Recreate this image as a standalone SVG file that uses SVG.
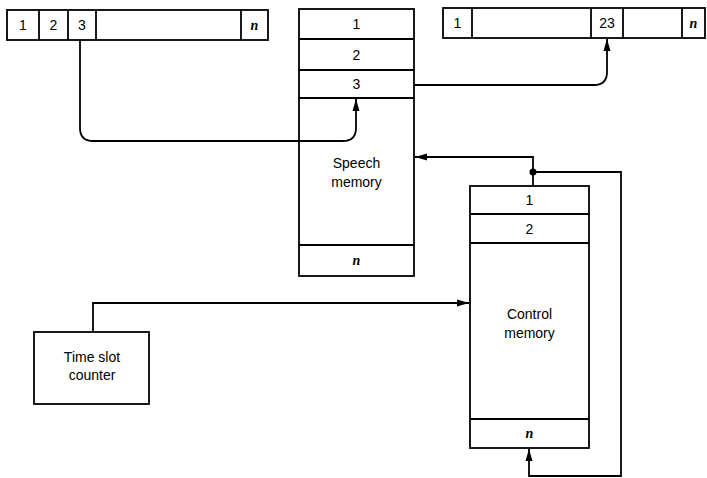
<svg xmlns="http://www.w3.org/2000/svg" width="707" height="478" viewBox="0 0 707 478">
<defs>
<style>
.b{fill:#fff;stroke:#000;stroke-width:1.8}
.l{fill:none;stroke:#000;stroke-width:1.8}
.t{font-family:"Liberation Sans",Arial,sans-serif;font-size:14px;text-anchor:middle;fill:#000}
.n{font-family:"Liberation Serif","Times New Roman",serif;font-style:italic;font-weight:bold;font-size:14px;text-anchor:middle;fill:#000}
</style>
<marker id="ah" viewBox="0 0 12 8" refX="12" refY="4" markerWidth="12" markerHeight="8" markerUnits="userSpaceOnUse" orient="auto"><path d="M0,0.5 L12,4 L0,7.5 Z" fill="#000"/></marker>
</defs>
<g id="input-frame">
<rect class="b" x="7" y="10" width="261" height="30"/>
<line class="l" x1="39" y1="10" x2="39" y2="40"/>
<line class="l" x1="68" y1="10" x2="68" y2="40"/>
<line class="l" x1="96" y1="10" x2="96" y2="40"/>
<line class="l" x1="241" y1="10" x2="241" y2="40"/>
<text class="t" x="23" y="30">1</text>
<text class="t" x="53.5" y="30">2</text>
<text class="t" x="82" y="30">3</text>
<text class="n" x="254.5" y="30">n</text>
</g>
<g id="output-frame">
<rect class="b" x="443" y="8" width="262" height="30"/>
<line class="l" x1="472" y1="8" x2="472" y2="38"/>
<line class="l" x1="591" y1="8" x2="591" y2="38"/>
<line class="l" x1="623" y1="8" x2="623" y2="38"/>
<line class="l" x1="682" y1="8" x2="682" y2="38"/>
<text class="t" x="457.5" y="28">1</text>
<text class="t" x="607" y="28">23</text>
<text class="n" x="693.5" y="28">n</text>
</g>
<g id="speech-memory">
<rect class="b" x="299" y="9" width="115" height="267"/>
<line class="l" x1="299" y1="39" x2="414" y2="39"/>
<line class="l" x1="299" y1="70" x2="414" y2="70"/>
<line class="l" x1="299" y1="98" x2="414" y2="98"/>
<line class="l" x1="299" y1="245" x2="414" y2="245"/>
<text class="t" x="356.5" y="29">1</text>
<text class="t" x="356.5" y="60">2</text>
<text class="t" x="356.5" y="89">3</text>
<text class="t" x="356.5" y="168">Speech</text>
<text class="t" x="356.5" y="187">memory</text>
<text class="n" x="356.5" y="265">n</text>
</g>
<g id="control-memory">
<rect class="b" x="470" y="186" width="119" height="262"/>
<line class="l" x1="470" y1="214" x2="589" y2="214"/>
<line class="l" x1="470" y1="243" x2="589" y2="243"/>
<line class="l" x1="470" y1="419" x2="589" y2="419"/>
<text class="t" x="529.5" y="205">1</text>
<text class="t" x="529.5" y="234">2</text>
<text class="t" x="529.5" y="319">Control</text>
<text class="t" x="529.5" y="338">memory</text>
<text class="n" x="529.5" y="438">n</text>
</g>
<g id="time-slot-counter">
<rect class="b" x="34" y="332" width="115" height="72"/>
<text class="t" x="92" y="362">Time slot</text>
<text class="t" x="92" y="380">counter</text>
</g>
<g id="connectors">
<path class="l" d="M80,40 V128 Q80,141 93,141 H343 Q356,141 356,128 V99" marker-end="url(#ah)"/>
<path class="l" d="M414,85 H594 Q607,85 607,72 V39" marker-end="url(#ah)"/>
<path class="l" d="M533,186 V157 H415" marker-end="url(#ah)"/>
<path class="l" d="M533,172 H621 V476 H529 V449" marker-end="url(#ah)"/>
<circle cx="533" cy="172" r="3.5" fill="#000"/>
<path class="l" d="M93,332 V303 H469" marker-end="url(#ah)"/>
</g>
</svg>
